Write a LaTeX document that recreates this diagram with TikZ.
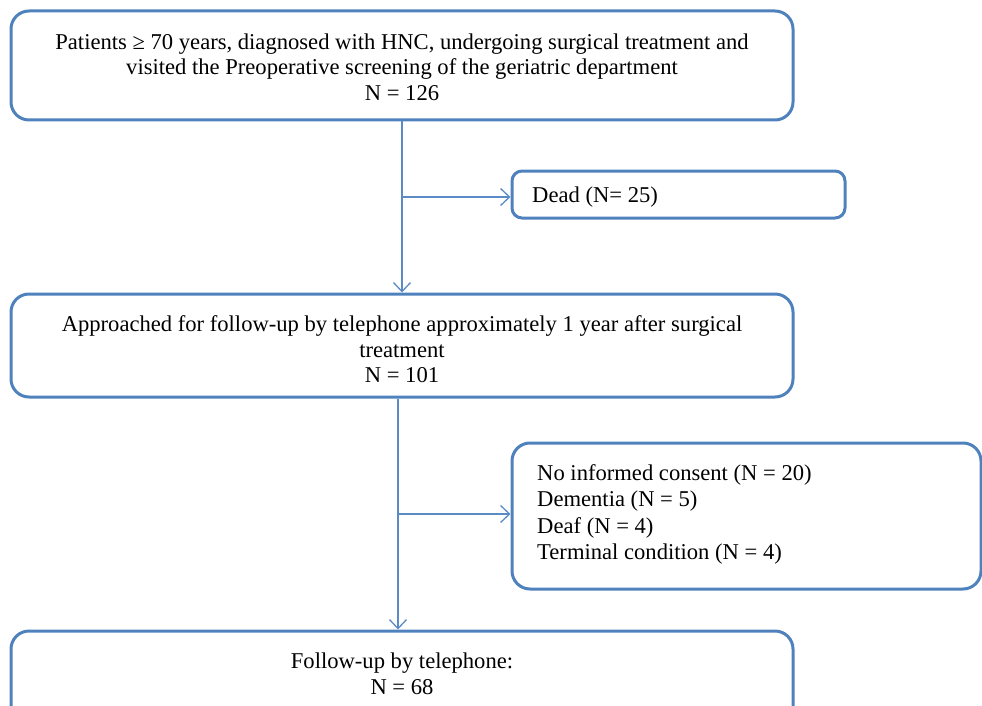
\documentclass[tikz,border=0pt]{standalone}
\usepackage{fontspec}
\setmainfont{Liberation Serif}
\usetikzlibrary{arrows.meta,calc}
\definecolor{boxblue}{HTML}{4F81BD}
\definecolor{arrowblue}{HTML}{5B8BC7}
\tikzset{
  flowbox/.style={draw=boxblue, line width=3pt, rounded corners=18pt, align=center, inner sep=0pt},
  sidebox/.style={draw=boxblue, line width=3pt, rounded corners=10pt, inner sep=0pt},
  conn/.style={draw=arrowblue, line width=1.5pt, -{Straight Barb[length=9pt,width=17pt,line width=1.3pt]}},
  txt/.style={font=\fontsize{22.6}{25.5}\selectfont, inner sep=0pt}
}
\begin{document}
\begin{tikzpicture}[x=1pt,y=-1pt]
\useasboundingbox (0,0) rectangle (982,706);
\node[flowbox, minimum width=782pt, minimum height=109pt] (b1) at (402,65.5) {};
\node[txt, align=center] (t1) at (402,67) {Patients ≥ 70 years, diagnosed with HNC, undergoing surgical treatment and\\visited the Preoperative screening of the geriatric department\\N = 126};
\node[sidebox, minimum width=333pt, minimum height=47pt] (dead) at (678.5,194.5) {};
\node[txt, anchor=west] (tdead) at (532,197) {Dead (N= 25)};
\node[flowbox, minimum width=782pt, minimum height=103pt] (b2) at (402,345.5) {};
\node[txt, align=center] (t2) at (402,349.5) {Approached for follow-up by telephone approximately 1 year after surgical\\treatment\\N = 101};
\node[flowbox, minimum width=469pt, minimum height=146pt] (excl) at (746.5,516) {};
\node[txt, font=\fontsize{22.6}{26.3}\selectfont, align=left, anchor=west] (texcl) at (537,514.5) {No informed consent (N = 20)\\Dementia (N = 5)\\Deaf (N = 4)\\Terminal condition (N = 4)};
\node[flowbox, minimum width=782pt, minimum height=100pt] (b3) at (402,681) {};
\node[txt, align=center] (t3) at (402,674) {Follow-up by telephone:\\N = 68};
\coordinate (j1) at (402,197);
\coordinate (j2) at (398,514);
\draw[conn] (b1.south) -- (b2.north);
\draw[conn] (j1) -- (j1 -| dead.west);
\draw[conn] ($(b2.south)+(-4,0)$) -- ($(b3.north)+(-4,0)$);
\draw[conn] (j2) -- (j2 -| excl.west);
\end{tikzpicture}
\end{document}
